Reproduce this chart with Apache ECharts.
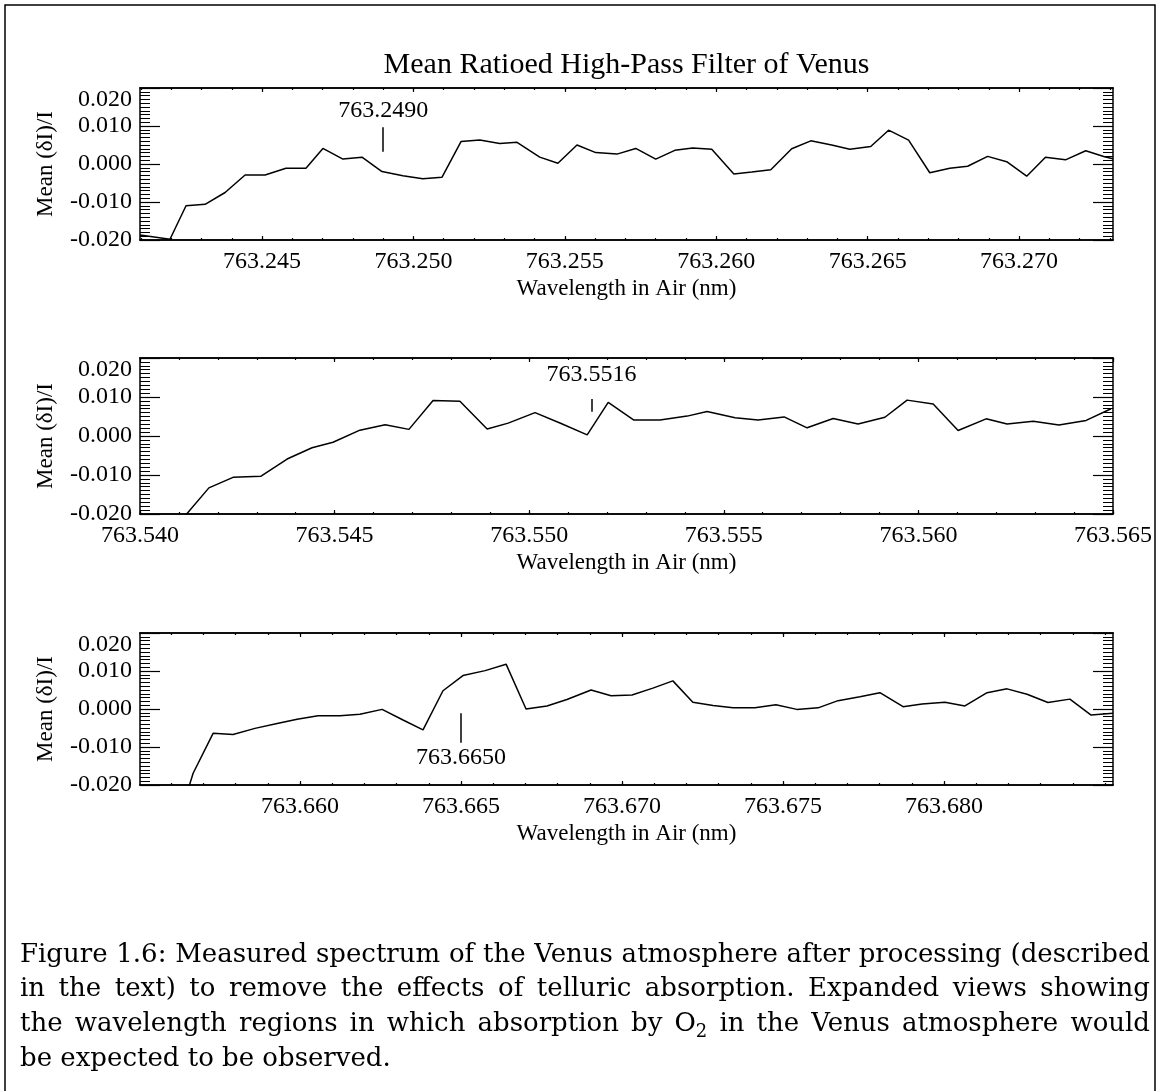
<!DOCTYPE html>
<html>
<head>
<meta charset="utf-8">
<title>Mean Ratioed High-Pass Filter of Venus</title>
<script src="https://cdn.jsdelivr.net/npm/echarts@6/dist/echarts.min.js"></script>
<style>
  html, body { margin: 0; padding: 0; background: #fff; }
  #chart { width: 1163px; height: 1091px; }
</style>
</head>
<body>
<div id="chart"></div>
<script>
// panel 1, around the 763.2490 nm line
const wl1 = [763.24097, 763.24196, 763.24249, 763.24312, 763.24378, 763.24444, 763.24510, 763.24579,
  763.24645, 763.24701, 763.24767, 763.24830, 763.24896, 763.24965, 763.25031, 763.25094, 763.25157,
  763.25219, 763.25285, 763.25342, 763.25417, 763.25477, 763.25540, 763.25602, 763.25672, 763.25734,
  763.25800, 763.25863, 763.25922, 763.25985, 763.26058, 763.26117, 763.26180, 763.26249, 763.26312,
  763.26381, 763.26441, 763.26510, 763.26569, 763.26635, 763.26705, 763.26771, 763.26830, 763.26896,
  763.26959, 763.27025, 763.27087, 763.27153, 763.27220, 763.27282, 763.27310];
const val1 = [-0.0187, -0.0198, -0.0110, -0.0106, -0.0075, -0.0029, -0.0029, -0.0011,
  -0.0011, 0.0041, 0.0013, 0.0018, -0.0020, -0.0031, -0.0039, -0.0035, 0.0059,
  0.0063, 0.0054, 0.0057, 0.0018, 0.0002, 0.0050, 0.0030, 0.0026, 0.0041,
  0.0013, 0.0036, 0.0042, 0.0039, -0.0026, -0.0021, -0.0015, 0.0040, 0.0061,
  0.0050, 0.0039, 0.0046, 0.0089, 0.0063, -0.0023, -0.0011, -0.0006, 0.0020,
  0.0006, -0.0032, 0.0018, 0.0011, 0.0035, 0.0019, 0.0014];
const range1 = [763.24097, 763.27310];
const ticks1 = [763.245, 763.250, 763.255, 763.260, 763.265, 763.270];

// panel 2, around 763.5516 nm
const wl2 = [763.54113, 763.54177, 763.54239, 763.54311, 763.54378, 763.54442, 763.54496, 763.54565,
  763.54630, 763.54691, 763.54753, 763.54822, 763.54892, 763.54946, 763.55015, 763.55082, 763.55149,
  763.55203, 763.55269, 763.55336, 763.55406, 763.55457, 763.55529, 763.55588, 763.55655, 763.55714,
  763.55781, 763.55845, 763.55914, 763.55971, 763.56038, 763.56102, 763.56174, 763.56228, 763.56295,
  763.56361, 763.56431, 763.56495];
const val2 = [-0.0208, -0.0133, -0.0106, -0.0103, -0.0059, -0.0030, -0.0016, 0.0015,
  0.0029, 0.0017, 0.0091, 0.0089, 0.0018, 0.0033, 0.0060, 0.0032, 0.0003,
  0.0086, 0.0041, 0.0041, 0.0051, 0.0063, 0.0047, 0.0041, 0.0049, 0.0021,
  0.0045, 0.0031, 0.0048, 0.0092, 0.0082, 0.0014, 0.0044, 0.0031, 0.0038,
  0.0028, 0.0040, 0.0070];
const range2 = [763.540, 763.565];
const ticks2 = [763.540, 763.545, 763.550, 763.555, 763.560, 763.565];

// panel 3, around 763.6650 nm
const wl3 = [763.65602, 763.65668, 763.65730, 763.65792, 763.65860, 763.65929, 763.65991, 763.66056,
  763.66124, 763.66186, 763.66255, 763.66320, 763.66382, 763.66444, 763.66506, 763.66575, 763.66640,
  763.66702, 763.66767, 763.66829, 763.66904, 763.66966, 763.67031, 763.67096, 763.67158, 763.67220,
  763.67283, 763.67345, 763.67413, 763.67478, 763.67543, 763.67609, 763.67671, 763.67739, 763.67801,
  763.67873, 763.67932, 763.68003, 763.68065, 763.68134, 763.68196, 763.68258, 763.68323, 763.68391,
  763.68457, 763.68525];
const val3 = [-0.0350, -0.0169, -0.0064, -0.0067, -0.0051, -0.0038, -0.0027, -0.0018,
  -0.0018, -0.0014, -0.0001, -0.0029, -0.0055, 0.0048, 0.0088, 0.0101, 0.0118,
  0.0000, 0.0008, 0.0025, 0.0050, 0.0035, 0.0037, 0.0055, 0.0074, 0.0018,
  0.0009, 0.0003, 0.0003, 0.0011, -0.0001, 0.0003, 0.0022, 0.0032, 0.0043,
  0.0006, 0.0013, 0.0018, 0.0008, 0.0043, 0.0053, 0.0039, 0.0017, 0.0026,
  -0.0016, -0.0011];
const range3 = [763.65503, 763.68525];
const ticks3 = [763.660, 763.665, 763.670, 763.675, 763.680];

// expected O2 line positions and the extent of their marker strokes (label sits past the 2nd value)
const markers = [763.2490, 763.5516, 763.6650];
const markerSpans = [[0.0032, 0.0097], [0.0062, 0.0095], [-0.0011, -0.0089]];

const yRange = [-0.02, 0.02];

const titleText = "Mean Ratioed High-Pass Filter of Venus";
const captionLines = [
  "Figure 1.6: Measured spectrum of the Venus atmosphere after processing (described",
  "in the text) to remove the effects of telluric absorption. Expanded views showing",
  "the wavelength regions in which absorption by O\u2082 in the Venus atmosphere would",
  "be expected to be observed."
];

const chart = echarts.init(document.getElementById("chart"));

const serif = "Liberation Serif";
const ink = "#000";
const plotLeft = 140;
const plotWidth = 973;
const panels = [
  { top: 88, height: 152, wl: wl1, val: val1, range: range1, ticks: ticks1, labelDist: 4 },
  { top: 358, height: 156, wl: wl2, val: val2, range: range2, ticks: ticks2, labelDist: 12 },
  { top: 633, height: 152, wl: wl3, val: val3, range: range3, ticks: ticks3, labelDist: 3 },
];

const minorTicks = (range) => {
  const out = [];
  for (let k = Math.ceil(range[0] * 1000 - 1e-6); k <= Math.floor(range[1] * 1000 + 1e-6); k++) {
    out.push(k / 1000);
  }
  return out;
};

const grids = [];
const xAxes = [];
const yAxes = [];
const series = [];

panels.forEach((p, i) => {
  grids.push({
    left: plotLeft, width: plotWidth, top: p.top, height: p.height,
    containLabel: false, outerBoundsMode: "none",
  });

  const xBase = (pos, values, len) => ({
    type: "value", gridIndex: i, position: pos,
    min: p.range[0], max: p.range[1],
    axisLine: { show: true, onZero: false, lineStyle: { color: ink, width: 1.5 } },
    axisTick: { show: true, inside: true, length: len, customValues: values,
      lineStyle: { color: ink, width: 1.2 } },
    minorTick: { show: false },
    splitLine: { show: false },
    axisLabel: { show: false },
  });
  const minors = minorTicks(p.range);

  const xMain = xBase("bottom", p.ticks, 4);
  xMain.axisLabel = {
    show: true, customValues: p.ticks, margin: 10,
    formatter: (v) => v.toFixed(3),
    color: ink, fontFamily: serif, fontSize: 24,
  };
  xMain.name = "Wavelength in Air (nm)";
  xMain.nameLocation = "middle";
  xMain.nameGap = 37;
  xMain.nameTextStyle = { color: ink, fontFamily: serif, fontSize: 23 };
  xAxes.push(xMain);
  xAxes.push(xBase("bottom", minors, 2));
  xAxes.push(xBase("top", p.ticks, 4));
  xAxes.push(xBase("top", minors, 2));

  const yBase = (pos) => ({
    type: "value", gridIndex: i, position: pos,
    min: yRange[0], max: yRange[1], interval: 0.01,
    axisLine: { show: true, onZero: false, lineStyle: { color: ink, width: 1.5 } },
    axisTick: { show: true, inside: true, length: 20, lineStyle: { color: ink, width: 1.2 } },
    minorTick: { show: true, splitNumber: 10, length: 10, lineStyle: { color: ink, width: 1 } },
    splitLine: { show: false },
    minorSplitLine: { show: false },
    axisLabel: { show: false },
  });
  const yLeft = yBase("left");
  yLeft.axisLabel = {
    show: true, margin: 8, color: ink, fontFamily: serif, fontSize: 24,
    formatter: (v) => (Math.abs(v) < 1e-9 ? 0 : v).toFixed(3),
    verticalAlignMaxLabel: "top",
  };
  yLeft.name = "Mean (\u03b4I)/I";
  yLeft.nameLocation = "middle";
  yLeft.nameGap = 83;
  yLeft.nameRotate = 90;
  yLeft.nameMoveOverlap = false;
  yLeft.nameTextStyle = { color: ink, fontFamily: serif, fontSize: 23 };
  yAxes.push(yLeft);
  yAxes.push(yBase("right"));

  series.push({
    type: "line",
    xAxisIndex: 4 * i,
    yAxisIndex: 2 * i,
    data: p.wl.map((w, k) => [w, p.val[k]]),
    symbol: "none",
    showSymbol: false,
    clip: true,
    lineStyle: { color: ink, width: 1.5 },
    emphasis: { disabled: true },
    markLine: {
      silent: true,
      symbol: ["none", "none"],
      lineStyle: { color: ink, width: 1.5, type: "solid" },
      emphasis: { disabled: true },
      label: {
        show: true, position: "end", distance: p.labelDist,
        formatter: markers[i].toFixed(4),
        color: ink, fontFamily: serif, fontSize: 24, lineHeight: 24,
      },
      data: [[
        { coord: [markers[i], markerSpans[i][0]] },
        { coord: [markers[i], markerSpans[i][1]] },
      ]],
    },
  });
});

// caption, justified like the source page; "₂" is drawn as a real lowered subscript
const captionLeft = 20;
const captionWidth = 1130;
const captionTop = 955;
const captionLeading = 34.7;
const capFont = '26px "DejaVu Serif"';
const subFont = '18px "DejaVu Serif"';
const measure = document.createElement("canvas").getContext("2d");
const textWidth = (s, f) => { measure.font = f; return measure.measureText(s).width; };
const wordParts = (w) => {
  const k = w.indexOf("\u2082");
  return k < 0 ? { base: w, sub: "" } : { base: w.slice(0, k), sub: "2" };
};
const captionEls = [];
captionLines.forEach((line, li) => {
  const words = line.split(" ").map(wordParts);
  const widths = words.map((w) => textWidth(w.base, capFont) + (w.sub ? textWidth(w.sub, subFont) : 0));
  const used = widths.reduce((a, b) => a + b, 0);
  const last = li === captionLines.length - 1;
  const space = textWidth(" ", capFont);
  const gap = last ? space : Math.max(space * 0.8, (captionWidth - used) / (words.length - 1));
  const y = captionTop + li * captionLeading;
  let x = captionLeft;
  words.forEach((w, k) => {
    captionEls.push({
      type: "text", x: x, y: y, silent: true,
      style: { text: w.base, font: capFont, fill: ink, textVerticalAlign: "middle" },
    });
    if (w.sub) {
      captionEls.push({
        type: "text", x: x + textWidth(w.base, capFont), y: y + 8, silent: true,
        style: { text: w.sub, font: subFont, fill: ink, textVerticalAlign: "middle" },
      });
    }
    x += widths[k] + gap;
  });
});

const option = {
  animation: false,
  backgroundColor: "#fff",
  grid: grids,
  xAxis: xAxes,
  yAxis: yAxes,
  series: series,
  graphic: [
    {
      type: "rect", silent: true,
      shape: { x: 5, y: 5, width: 1150, height: 1100 },
      style: { fill: "none", stroke: ink, lineWidth: 1.5 },
    },
    {
      type: "text", silent: true, x: plotLeft + plotWidth / 2, y: 65,
      style: { text: titleText, font: '30px "Liberation Serif"', fill: ink,
        textAlign: "center", textVerticalAlign: "middle" },
    },
    ...captionEls,
  ],
};

chart.setOption(option);
</script>
</body>
</html>
